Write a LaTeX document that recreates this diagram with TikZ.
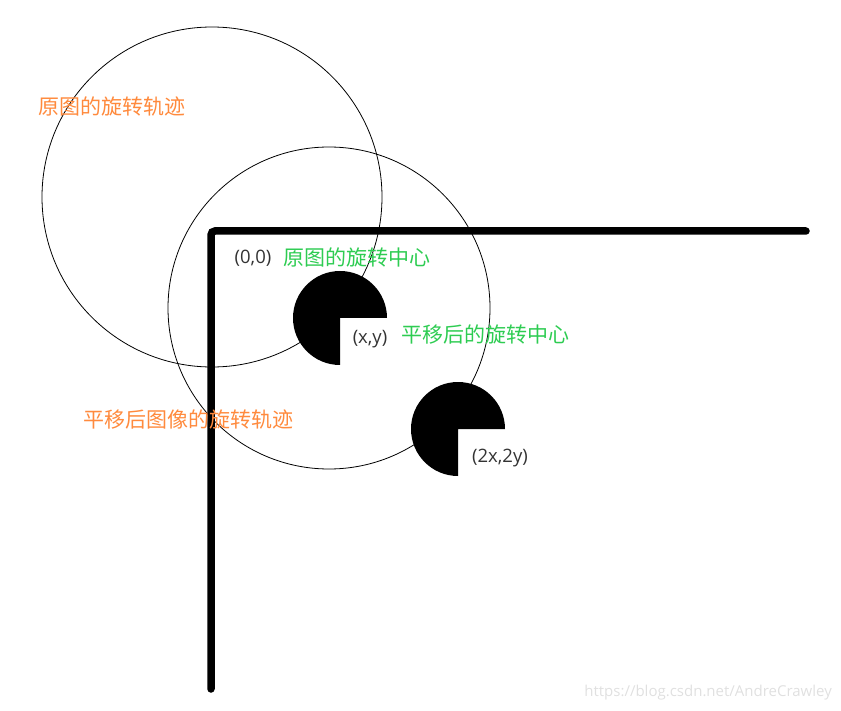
\documentclass[tikz,border=0pt]{standalone}
\usepackage{fontspec}
\setmainfont{Open Sans}
\newfontfamily\cjk{Noto Sans CJK SC}
\usetikzlibrary{positioning}
\definecolor{trackorange}{HTML}{FF8A3D}
\definecolor{centergreen}{HTML}{2ECC52}
\definecolor{coordgray}{HTML}{333333}

\begin{document}
\begin{tikzpicture}[x=1pt, y=-1pt,
  axisline/.style={line width=7.5pt, line cap=round, rounded corners=4pt},
  orbit/.style={draw, line width=0.8pt},
  pac/.style={fill=black},
  coordlbl/.style={text=coordgray, font=\fontsize{18.5}{18.5}\selectfont, inner sep=0pt},
  greenlbl/.style={text=centergreen, font=\cjk\fontsize{21}{21}\selectfont, inner sep=0pt, anchor=west},
  orangelbl/.style={text=trackorange, font=\cjk\fontsize{21}{21}\selectfont, inner sep=0pt, anchor=west}]
  \useasboundingbox (0,0) rectangle (841,711);
  % axes
  \coordinate (xend) at (806,231);
  \coordinate (origin) at (211,231);
  \coordinate (yend) at (211,689);
  \draw[axisline] (xend) -- (origin) -- (yend);
  % rotation tracks
  \coordinate (c1) at (212,197);
  \coordinate (c2) at (329,308);
  \draw[orbit] (c1) circle[radius=170];
  \draw[orbit] (c2) circle[radius=161];
  % rotated shapes
  \coordinate (p1) at (340,318);
  \coordinate (p2) at (458,429);
  \fill[pac] (p1) -- ++(0,47) arc[start angle=90, end angle=360, radius=47] -- cycle;
  \fill[pac] (p2) -- ++(0,47) arc[start angle=90, end angle=360, radius=47] -- cycle;
  % labels
  \node[coordlbl] (zero) at (253,258) {(0,0)};
  \node[greenlbl] (ctr1) at (283,257) {原图的旋转中心};
  \node[coordlbl] (xy) at (370,339) {(x,y)};
  \node[greenlbl] (ctr2) at (401,335) {平移后的旋转中心};
  \node[coordlbl] (xy2) at (500,458) {(2x,2y)};
  \node[orangelbl] (track1) at (38,107) {原图的旋转轨迹};
  \node[orangelbl] (track2) at (83,420) {平移后图像的旋转轨迹};
  \node[text=black!12, font=\fontsize{15}{15}\selectfont, inner sep=0pt, anchor=east] (mark) at (832,693) {https://blog.csdn.net/AndreCrawley};
\end{tikzpicture}
\end{document}
